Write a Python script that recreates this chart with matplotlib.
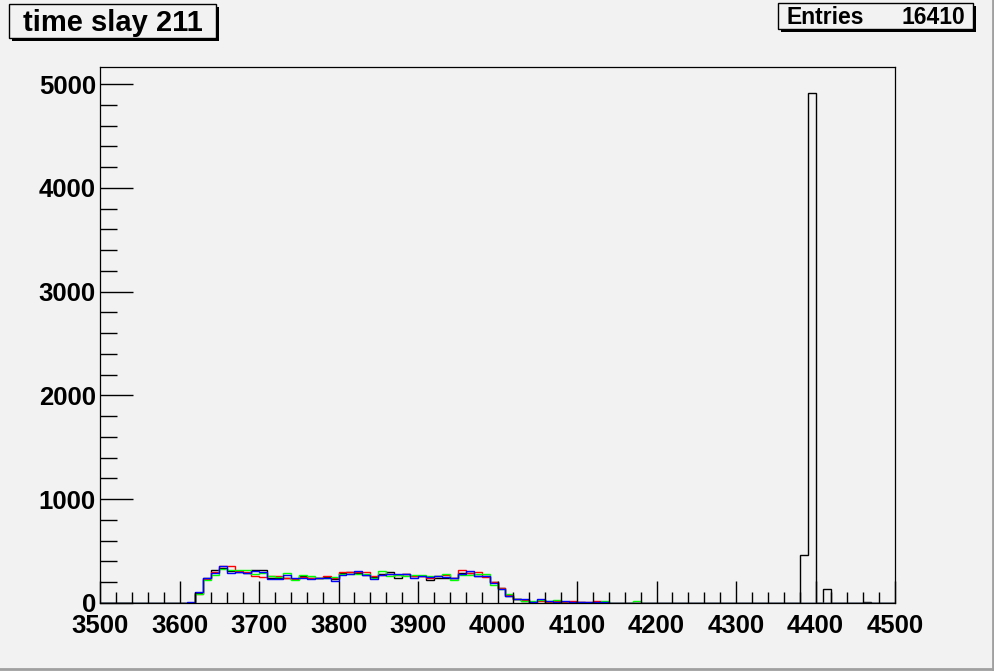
import matplotlib

matplotlib.use('Agg')
import matplotlib.pyplot as plt
import matplotlib.ticker as ticker
from matplotlib.patches import Rectangle
from matplotlib.lines import Line2D
import numpy as np

plt.rcParams['font.family'] = ['Liberation Sans', 'DejaVu Sans']

# binning of the histogram (ROOT style, 100 bins of width 10)
x_lo, x_hi, bin_w = 3500, 4500, 10
first_bin = 3610  # lower edge of the first listed bin below

# bin contents, from 3610 upwards
black = [3, 100, 239, 316, 342, 306, 303, 290, 316, 316, 239, 245, 245, 235, 258, 239, 245, 251, 232,
         290, 297, 290, 271, 251, 284, 297, 239, 277, 264, 258, 219, 245, 245, 239, 290, 290, 264, 258,
         200, 140, 70, 40, 22, 9, 29, 9, 9, 5, 3, 5, 3, 2, 3, 2, 0, 2, 0, 0]
red = [2, 84, 232, 297, 355, 355, 310, 297, 261, 251, 258, 258, 245, 232, 251, 239, 245, 264, 239,
       297, 297, 297, 297, 258, 271, 277, 271, 277, 258, 258, 239, 258, 271, 239, 316, 290, 297, 251,
       200, 140, 75, 42, 25, 5, 22, 12, 16, 9, 16, 9, 5, 16, 9, 3, 0, 0, 2, 0]
green = [4, 90, 219, 271, 329, 316, 316, 316, 277, 290, 258, 251, 290, 226, 271, 264, 245, 239, 251,
         277, 277, 284, 284, 239, 310, 258, 271, 258, 271, 271, 264, 264, 284, 226, 271, 271, 277, 277,
         174, 135, 84, 35, 22, 16, 29, 22, 29, 3, 2, 0, 2, 3, 16, 3, 0, 2, 15, 0]
blue = [5, 103, 239, 287, 355, 287, 300, 287, 310, 300, 232, 232, 271, 239, 239, 232, 245, 239, 213,
        271, 284, 310, 271, 232, 271, 277, 277, 284, 239, 264, 251, 258, 251, 245, 284, 310, 264, 258,
        196, 138, 68, 42, 35, 9, 35, 16, 9, 16, 9, 7, 9, 5, 5, 3, 0, 0, 2, 0]

# the late peak exists only in the black histogram
black_tail_bins = [4380, 4390, 4410, 4460, 4480]
black_tail_vals = [460, 4920, 135, 5, 4]

title = "time slay 211"
entries = 16410

edges = np.arange(x_lo, x_hi + bin_w, bin_w)
n_bins = len(edges) - 1


def fill_bins(vals):
    full = np.zeros(n_bins)
    i0 = (first_bin - x_lo) // bin_w
    full[i0:i0 + len(vals)] = vals
    return full


h_black = fill_bins(black)
for b, v in zip(black_tail_bins, black_tail_vals):
    h_black[(b - x_lo) // bin_w] = v

bg = '#f2f2f2'
W, H = 995, 671
fig = plt.figure(figsize=(W / 100, H / 100), dpi=100, facecolor=bg)
ax = fig.add_axes([100 / W, (H - 603) / H, 795 / W, 536 / H], facecolor=bg)

lw = 1.0
ax.stairs(h_black, edges, color='black', linewidth=lw)
ax.stairs(fill_bins(red), edges, color='#ff0000', linewidth=lw)
ax.stairs(fill_bins(green), edges, color='#00ff00', linewidth=lw)
ax.stairs(fill_bins(blue), edges, color='#0000ff', linewidth=lw)

ax.set_xlim(x_lo, x_hi)
ax.set_ylim(0, 1.05 * max(h_black))

ax.xaxis.set_major_locator(ticker.MultipleLocator(100))
ax.xaxis.set_minor_locator(ticker.MultipleLocator(20))
ax.yaxis.set_major_locator(ticker.MultipleLocator(1000))
ax.yaxis.set_minor_locator(ticker.MultipleLocator(200))

ax.tick_params(axis='x', which='major', direction='in', length=16, width=1, pad=8)
ax.tick_params(axis='x', which='minor', direction='in', length=8, width=1)
ax.tick_params(axis='y', which='major', direction='in', length=24, width=1, pad=3)
ax.tick_params(axis='y', which='minor', direction='in', length=12, width=1)
for lab in ax.get_xticklabels() + ax.get_yticklabels():
    lab.set_fontsize(18.5)
    lab.set_fontweight('bold')
for sp in ax.spines.values():
    sp.set_linewidth(0.9)

# title and stats boxes, with ROOT-style shadows
def box(x0, y0, x1, y1):
    shadow = Rectangle((x0 + 3, H - y1 - 3), x1 - x0, y1 - y0, transform=None,
                       facecolor='black', edgecolor='black', linewidth=0)
    frame = Rectangle((x0, H - y1), x1 - x0, y1 - y0, transform=None,
                      facecolor=bg, edgecolor='black', linewidth=1.0)
    fig.patches.extend([shadow, frame])


box(9, 4, 216, 38)
box(778, 3, 973, 29)
fig.text(113 / W, 1 - 31 / H, title, ha='center', va='baseline',
         fontsize=21, fontweight='bold')
fig.text(787 / W, 1 - 24 / H, "Entries", ha='left', va='baseline',
         fontsize=16.5, fontweight='bold')
fig.text(965 / W, 1 - 24 / H, str(entries), ha='right', va='baseline',
         fontsize=16.5, fontweight='bold')

# canvas edge
fig.add_artist(Line2D([1 - 2 / W, 1 - 2 / W], [0, 1], color='#a0a0a0', linewidth=2))
fig.add_artist(Line2D([0, 1], [2 / H, 2 / H], color='#a0a0a0', linewidth=2))

fig.savefig('out.png', dpi=100, facecolor=bg)
